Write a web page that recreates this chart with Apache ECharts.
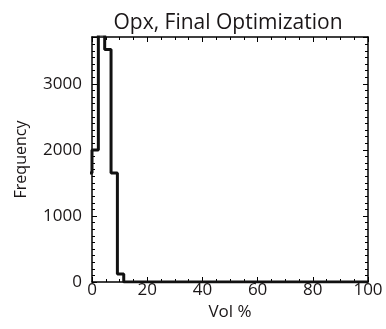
<!DOCTYPE html>
<html>
<head>
<meta charset="utf-8">
<script src="https://cdn.jsdelivr.net/npm/echarts@6/dist/echarts.min.js"></script>
<style>
  html, body { margin: 0; padding: 0; background: #fff; }
  #chart { width: 386px; height: 329px; }
</style>
</head>
<body>
<div id="chart"></div>
<script>
// Histogram of Opx volume percent: left bin edges and counts
const binEdges = [-2.3, 0, 2.3, 4.6, 6.9, 9.2, 11.5, 100];
const counts   = [1650, 2000, 3750, 3520, 1650, 120, 0, 0];
const xTicks = [0, 20, 40, 60, 80, 100];
const yTicks = [0, 1000, 2000, 3000];

const ink = '#1a1617';
const font = 'Open Sans';

const steps = binEdges.map((e, i) => [e, counts[i]]);

// shared frame styling: every side drawn as an axis line with inward ticks
function frame(extra) {
  return Object.assign({
    type: 'value',
    axisLine: { show: true, onZero: false, lineStyle: { color: '#000', width: 1.5 } },
    axisTick: { show: true, inside: true, length: 5, lineStyle: { color: '#000', width: 1 } },
    splitLine: { show: false }
  }, extra);
}

const chart = echarts.init(document.getElementById('chart'), null, { renderer: 'canvas' });
chart.setOption({
  animation: false,
  backgroundColor: '#fff',
  title: {
    text: 'Opx, Final Optimization',
    left: 223, top: 8, textAlign: 'center',
    textStyle: { fontFamily: font, fontSize: 21, fontWeight: 500, color: ink }
  },
  grid: { left: 92, right: 18, top: 37, bottom: 47 },
  xAxis: [
    frame({
      min: xTicks[0], max: xTicks[xTicks.length - 1], interval: 20,
      name: 'Vol %', nameLocation: 'middle', nameGap: 22,
      nameTextStyle: { fontFamily: font, fontSize: 17, fontWeight: 500, color: ink },
      minorTick: { show: true, splitNumber: 4, length: 3, lineStyle: { color: '#000' } },
      axisLabel: { fontFamily: font, fontSize: 17, fontWeight: 500, color: ink, margin: 0 }
    }),
    frame({
      position: 'top', min: 0, max: 100, interval: 20,
      minorTick: { show: true, splitNumber: 4, length: 3, lineStyle: { color: '#000' } },
      axisLabel: { show: false }
    })
  ],
  yAxis: [
    frame({
      min: yTicks[0], max: 3710, interval: 1000,
      name: 'Frequency', nameLocation: 'middle', nameGap: 63,
      nameTextStyle: { fontFamily: font, fontSize: 16, fontWeight: 500, color: ink },
      minorTick: { show: true, splitNumber: 10, length: 3, lineStyle: { color: '#000' } },
      axisLabel: {
        fontFamily: font, fontSize: 17, fontWeight: 500, color: ink, margin: 10, showMaxLabel: false,
        formatter: v => String(v)
      }
    }),
    frame({
      position: 'right', min: 0, max: 3710, interval: 1000,
      minorTick: { show: true, splitNumber: 10, length: 3, lineStyle: { color: '#000' } },
      axisLabel: { show: false }
    })
  ],
  series: [{
    type: 'line',
    xAxisIndex: 0, yAxisIndex: 0,
    data: steps,
    step: 'end',
    clip: true,
    symbol: 'none',
    lineStyle: { color: '#111', width: 3 }
  }]
});
</script>
</body>
</html>
